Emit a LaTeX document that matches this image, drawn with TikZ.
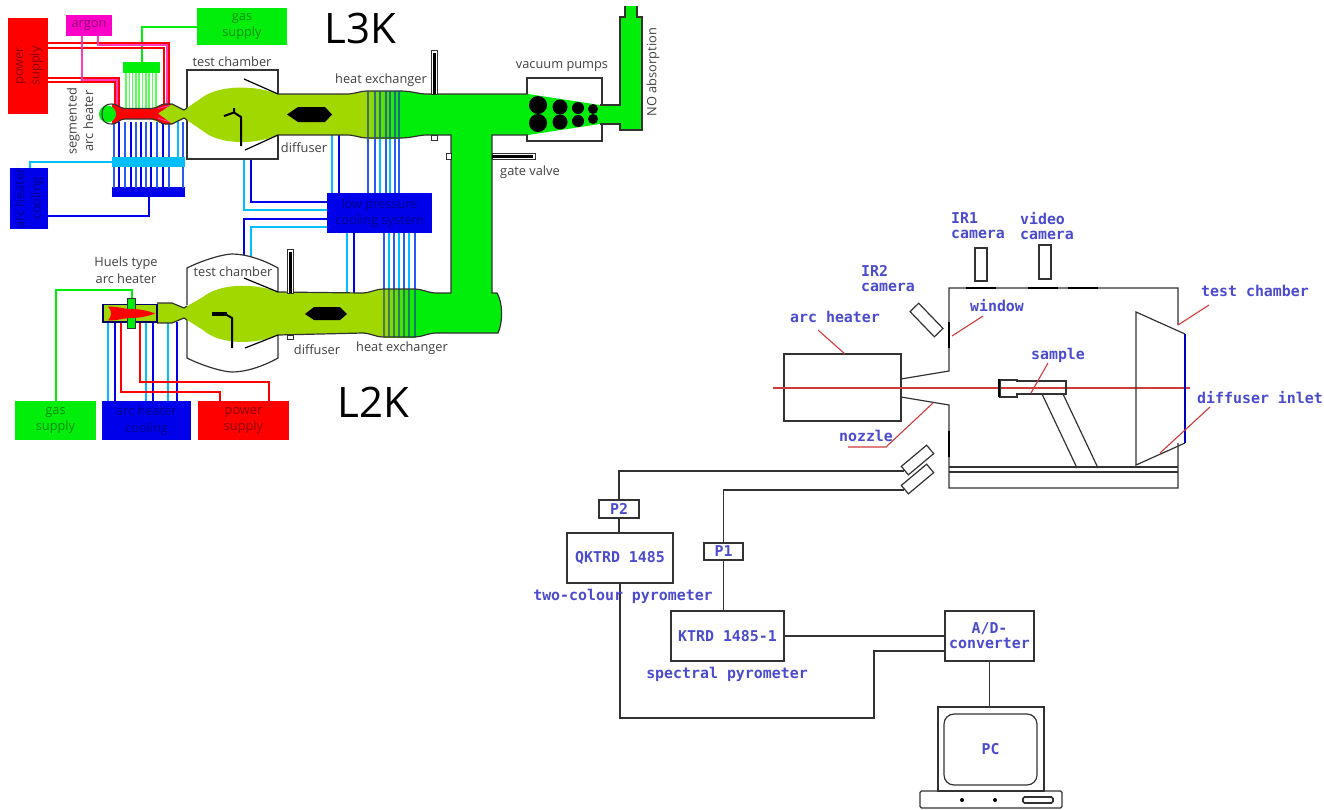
\documentclass[tikz,border=0pt]{standalone}
\usepackage{fontspec}
\setsansfont{Open Sans}
\setmonofont{DejaVu Sans Mono}
\definecolor{limeflow}{RGB}{160,216,0}
\definecolor{brightflow}{RGB}{0,238,10}
\definecolor{pinkline}{RGB}{255,60,190}
\definecolor{argonpink}{RGB}{255,0,200}
\definecolor{deepblue}{RGB}{0,0,235}
\definecolor{midblue}{RGB}{40,90,245}
\definecolor{skyblue}{RGB}{0,190,255}
\definecolor{monoblue}{RGB}{75,75,205}
\definecolor{leader}{RGB}{205,60,60}
\definecolor{wall}{RGB}{50,50,50}
\tikzset{
  sanslab/.style={font=\sffamily\fontsize{12.8}{16.5}\selectfont, text=black!75, align=center, inner sep=0pt},
  monolab/.style={font=\ttfamily\bfseries\fontsize{14.9}{15}\selectfont, text=monoblue, align=center, inner sep=0pt},
  supplybox/.style={fill=#1, text=#1!55!black, font=\sffamily\fontsize{12.8}{16.5}\selectfont, align=center, inner sep=0pt},
  wallbox/.style={draw=wall, line width=1.2pt, inner sep=0pt},
  wire/.style={draw=wall, line width=1.2pt},
  pipe/.style={draw=#1, line width=2pt},
  leadline/.style={draw=leader, line width=1.1pt},
  valvebox/.style={draw=wall, fill=white, line width=0.8pt}
}
\begin{document}
\begin{tikzpicture}[x=1pt,y=-1pt]
\useasboundingbox (0,0) rectangle (1324,809);
% L3K supplies
\node[supplybox=red, minimum width=40, minimum height=96] (powerthree) at (28,66) {\rotatebox{90}{\begin{tabular}{@{}c@{}}power\\supply\end{tabular}}};
\node[supplybox=argonpink, minimum width=46, minimum height=21] (argon) at (89,25.5) {argon};
\node[supplybox=green, fill=brightflow, minimum width=90, minimum height=37] (gasthree) at (242,26.5) {gas\\supply};
\node[supplybox=blue, fill=deepblue, minimum width=38, minimum height=61] (coolthree) at (29,198.5) {\rotatebox{90}{\begin{tabular}{@{}c@{}}arc heater\\cooling\end{tabular}}};
\node[fill=deepblue, minimum width=73, minimum height=10, inner sep=0pt] (deepbar) at (148.5,192) {};
\node[fill=brightflow, minimum width=37, minimum height=11, inner sep=0pt] (gasbar) at (141.5,67.5) {};
\node[supplybox=blue, fill=deepblue, minimum width=105, minimum height=40] (lowcool) at (379.5,213) {low pressure\\cooling system};
\coordinate (redA) at (169,106); \coordinate (redB) at (164,106); \coordinate (redC) at (119,106); \coordinate (redD) at (115,106);
\coordinate (pinkA) at (167,106); \coordinate (pinkB) at (117,106);
\foreach \x in {126,129.3,...,159} {\draw[draw=green!65!white, line width=1.6pt] (\x,73) -- (\x,108);}
\draw[pipe=brightflow] (gasbar.north) |- (gasthree.west);
\draw[pipe=red, line width=1.2pt] (powerthree.east |- 0,43) -| (redA);
\draw[pipe=red, line width=1.2pt] (powerthree.east |- 0,48) -| (redB);
\draw[pipe=red, line width=1.2pt] (powerthree.east |- 0,78) -| (redC);
\draw[pipe=red, line width=1.2pt] (powerthree.east |- 0,82) -| (redD);
\draw[pipe=pinkline, line width=1.4pt] (argon.south -| 98,0) |- (pinkA |- 0,45) -- (pinkA);
\draw[pipe=pinkline, line width=1.4pt] (argon.south -| 82,0) |- (pinkB |- 0,80) -- (pinkB);
\foreach \x/\c in {114/midblue,119/deepblue,125/midblue,131/deepblue,136/midblue,141/deepblue,146/midblue,151/deepblue,157/midblue,163/deepblue,169/midblue,183/midblue} {\draw[pipe=\c, line width=1.5pt] (\x,122) -- (\x,188);}
\draw[pipe=skyblue, line width=1.5pt] (178,119) -- (178,158);
\node[fill=skyblue, minimum width=73, minimum height=10, inner sep=0pt] (skybar) at (148.5,162) {};
\draw[pipe=skyblue] (skybar.west) -| (coolthree.north -| 30,0);
\draw[pipe=deepblue] (deepbar.south -| 149,0) |- (coolthree.east |- 0,216);
% cooling lines
\draw[pipe=deepblue] (251,159) |- (lowcool.west |- 0,202);
\draw[pipe=skyblue] (244,159) |- (lowcool.west |- 0,210);
\draw[pipe=deepblue] (243.5,256) |- (lowcool.west |- 0,219);
\draw[pipe=skyblue] (250.5,258) |- (lowcool.west |- 0,227);
\draw[pipe=skyblue] (332,135) -- (lowcool.north -| 332,0);
\draw[pipe=deepblue] (339,135) -- (lowcool.north -| 339,0);
\draw[pipe=skyblue] (347,293) -- (lowcool.south -| 347,0);
\draw[pipe=deepblue] (354,293) -- (lowcool.south -| 354,0);
\foreach \x/\c in {368/midblue,375/midblue,380/skyblue,386/midblue,390/skyblue,395/midblue,399/midblue} {\draw[pipe=\c, line width=1.5pt] (\x,135) -- (lowcool.north -| \x,0);}
\foreach \x/\c in {384/midblue,389/skyblue,394/midblue,399/skyblue,404/midblue,409/skyblue,415/midblue} {\draw[pipe=\c, line width=1.5pt] (\x,290) -- (lowcool.south -| \x,0);}
% L3K chamber and ducts
\node[wallbox, minimum width=91, minimum height=89] (chamberthree) at (232.5,114.5) {};
\node[wallbox, minimum width=75, minimum height=63] (pumpbox) at (564.5,109.5) {};
\fill[limeflow] (150,109) -- (163,104) -- (172,104) -- (184,110) -- (203,97) .. controls (220,85) and (255,85) .. (278,94) -- (347,94) .. controls (355,94) and (360,91) .. (367,91) -- (367,138) .. controls (360,138) and (355,135) .. (347,135) -- (278,135) .. controls (255,145) and (220,145) .. (203,131) -- (184,118) -- (172,124) -- (163,124) -- (150,119) -- cycle;
\shade[left color=limeflow, right color=brightflow] (367,91) rectangle (400,138);
\fill[brightflow] (400,91) .. controls (412,91) and (418,94) .. (427,94) -- (528,94) -- (600,105) -- (620,105) -- (620,17) -- (625,17) -- (625,6) -- (637,6) -- (637,17) -- (642,17) -- (642,130) -- (620,130) -- (620,124) -- (600,124) -- (528,135) -- (492,135) -- (492,293) -- (497,293) .. controls (503,303) and (503,322) .. (498,333) -- (437,333) .. controls (428,333) and (422,337) .. (415,337) -- (415,289) .. controls (422,289) and (428,293) .. (437,293) -- (451,293) -- (451,135) -- (427,135) .. controls (418,135) and (412,138) .. (400,138) -- cycle;
\draw[wire] (278,94) -- (347,94) .. controls (355,94) and (360,91) .. (367,91) -- (400,91) .. controls (412,91) and (418,94) .. (427,94) -- (528,94);
\draw[wire] (278,135) -- (347,135) .. controls (355,135) and (360,138) .. (367,138) -- (400,138) .. controls (412,138) and (418,135) .. (427,135) -- (451,135) -- (451,293);
\draw[wire] (528,135) -- (492,135) -- (492,293) -- (497,293) .. controls (503,303) and (503,322) .. (498,333) -- (437,333);
\draw[wire] (600,105) -- (620,105) -- (620,17) -- (625,17) -- (625,6) (637,6) -- (637,17) -- (642,17) -- (642,130) -- (620,130) -- (620,124) -- (600,124);
\foreach \x in {368,375,380,386,390,395,399} {\draw[midblue!70!black, opacity=0.7, line width=1.5pt] (\x,91) -- (\x,138);}
\foreach \cx/\cy/\r in {538/105/9,538/123/9,560/107/7.5,560/122/7.5,578/108/6,578/121/6,593/109/5,593/119/5} {\fill[black] (\cx,\cy) circle[radius=\r];}
\fill[black] (287,114.5) -- (298,107) -- (325,107) -- (332,114.5) -- (325,122) -- (298,122) -- cycle;
\draw[black, line width=1.2pt] (244,79) -- (278,94) (245,150) -- (278,135);
\draw[black, line width=2pt] (241,146) -- (241,117) -- (234,112.5) -- (224,116) (234,112.5) -- (234,108);
\draw[valvebox] (431,50) rectangle (437,94); \fill[black] (432.5,53) rectangle (435.5,94);
\draw[valvebox] (431,135) rectangle (437,140);
\draw[valvebox] (446,153) rectangle (451,159);
\draw[valvebox] (492,153) rectangle (535,159); \fill[black] (492,154.5) rectangle (533,157.5);
% L3K heater
\fill[red] (112,104) .. controls (118,104) and (119,108) .. (125,108.5) -- (152,108.5) .. controls (158,108) and (160,104) .. (165,104) -- (172,104) -- (158,113.5) -- (172,124) -- (165,124) .. controls (160,124) and (158,119) .. (152,119) -- (125,119) .. controls (119,119) and (118,124) .. (112,124) -- cycle;
\draw[pinkline, line width=0.8pt] (158,108.5) -- (170,105.5) (158,118) -- (170,122);
\fill[brightflow] (107.5,114) circle[radius=8.5];
\draw[draw=wall, line width=1.1pt] (172,104) -- (165,104) .. controls (160,104) and (158,108) .. (152,108.5) -- (125,108.5) .. controls (119,108) and (118,104) .. (112,104) .. controls (104,104) and (102,108) .. (102,114) .. controls (102,120) and (104,124) .. (112,124) .. controls (118,124) and (119,119) .. (125,119) -- (152,119) .. controls (158,119) and (160,124) .. (165,124) -- (172,124);
\draw[wire] (172,104) -- (184,110) -- (187,108) (172,124) -- (184,118) -- (187,120);
% L2K supplies
\node[supplybox=green, fill=brightflow, minimum width=81, minimum height=39] (gastwo) at (55.5,420.5) {gas\\supply};
\node[supplybox=blue, fill=deepblue, minimum width=89, minimum height=39] (cooltwo) at (146.5,420.5) {arc heater\\cooling};
\node[supplybox=red, minimum width=91, minimum height=39] (powertwo) at (243.5,420.5) {power\\supply};
\coordinate (inlettwo) at (132,298);
\draw[pipe=brightflow] (inlettwo) |- (56,290) -- (gastwo.north -| 56,0);
\foreach \x/\c in {108/skyblue,115/deepblue,146/skyblue,153/deepblue,167.5/skyblue,176.5/deepblue} {\draw[pipe=\c] (\x,322) -- (cooltwo.north -| \x,0);}
\draw[pipe=red] (121,322) |- (220,392) -- (powertwo.north -| 220,0);
\draw[pipe=red] (140,322) |- (269,382) -- (powertwo.north -| 269,0);
% L2K chamber and ducts
\draw[wall, line width=1.2pt, fill=white] (187,305) -- (187,268) .. controls (205,259) and (225,254) .. (232,254) .. controls (245,254) and (262,259) .. (278,268) -- (278,358) .. controls (262,367) and (245,372) .. (232,372) .. controls (225,372) and (205,367) .. (187,358) -- (187,320);
\fill[limeflow] (157,303) -- (172,303) -- (184,308) -- (203,297) .. controls (220,283) and (255,283) .. (278,292) -- (363,293) .. controls (370,293) and (375,289) .. (384,289) -- (384,337) .. controls (375,337) and (370,333) .. (363,333) -- (278,335) .. controls (255,345) and (220,345) .. (203,330) -- (184,318) -- (172,323) -- (157,323) -- cycle;
\shade[left color=limeflow, right color=brightflow] (384,289) rectangle (415,337);
\draw[wire] (278,292) -- (363,293) .. controls (370,293) and (375,289) .. (384,289) -- (415,289) .. controls (422,289) and (428,293) .. (437,293) -- (451,293);
\draw[wire] (278,335) -- (363,333) .. controls (370,333) and (375,337) .. (384,337) -- (415,337) .. controls (422,337) and (428,333) .. (437,333);
\foreach \x in {384,389,394,399,404,409,415} {\draw[midblue!60!black, opacity=0.6, line width=1.5pt] (\x,289) -- (\x,337);}
\draw[wire] (157,303) -- (172,303) -- (184,308) -- (187,306) (157,323) -- (172,323) -- (184,318) -- (187,320);
\fill[black] (305,314) -- (314,307) -- (340,307) -- (347,314) -- (340,320) -- (314,320) -- cycle;
\draw[black, line width=1.2pt] (244,278) -- (278,292) (245,348) -- (278,335);
\fill[black] (212,312) -- (227,312) -- (227,316) -- (212,316) -- cycle;
\draw[black, line width=2pt] (232,348) -- (232,318) -- (226,314.5);
\draw[valvebox] (287,249) rectangle (293,293); \fill[black] (288.5,252) rectangle (291.5,293);
\draw[valvebox] (287,335) rectangle (293,339);
% L2K heater
\fill[limeflow, draw=black!60!blue, line width=1.2pt] (103,304.5) rectangle (157,322);
\fill[brightflow, draw=wall, line width=0.8pt] (127,298) rectangle (135,328);
\fill[red] (108,306.5) .. controls (118,306.5) and (124,309) .. (131,309) .. controls (138,309) and (146,310) .. (155,313.5) .. controls (146,317) and (138,318) .. (131,318) .. controls (124,318) and (118,320.5) .. (108,320.5) .. controls (112,316) and (112,311) .. (108,306.5) -- cycle;
% right-hand test section
\draw[wire] (901,354) rectangle (784,421);
\draw[wire] (901,354) -- (901,379) -- (949,371) -- (949,288) -- (1178,288) -- (1178,325);
\draw[wire] (901,421) -- (901,397) -- (949,405) -- (949,488) -- (1178,488) -- (1178,443);
\draw[wire] (949,467) -- (1178,467) (949,472) -- (1178,472);
\draw[leadline] (773,388) -- (1190,388);
\draw[black, line width=2.4pt] (949,322) -- (949,348) (949,431) -- (949,457) (966,288) -- (996,288) (1028,288) -- (1058,288) (1068,288) -- (1098,288);
\node[wallbox, minimum width=12, minimum height=33] (irone) at (981,264.5) {};
\node[wallbox, minimum width=12, minimum height=34] (video) at (1045,262) {};
\node[wallbox, rotate=-46, minimum width=35, minimum height=12] (irtwo) at (926.5,320) {};
\node[wallbox, rotate=40, minimum width=33, minimum height=11] (fibreA) at (917.5,460) {};
\node[wallbox, rotate=40, minimum width=33, minimum height=11] (fibreB) at (917.5,479) {};
\draw[wire] (1000,380) -- (1017,380) -- (1017,381) -- (1066,381) -- (1066,394) -- (1017,394) -- (1017,397) -- (1000,397) -- cycle;
\draw[black, line width=2.4pt] (999,379) -- (999,397);
\draw[wire] (1042,394) -- (1077,468) (1063,394) -- (1098,468);
\draw[wire] (1185,334) -- (1136,312) -- (1136,465) -- (1185,443);
\draw[deepblue!80!black, line width=1.2pt] (1185,334) -- (1185,443);
\draw[leadline] (818,330) -- (845,354);
\draw[leadline] (983,316) -- (952,336);
\draw[leadline] (1048,363) -- (1031,393);
\draw[leadline] (848,447) -- (886,447) -- (933,403);
\draw[leadline] (1209,305) -- (1178,325);
\draw[leadline] (1210,407) -- (1160,453);
% pyrometers and PC
\node[wallbox, monolab, minimum width=40, minimum height=18] (ptwo) at (619,509) {P2};
\node[wallbox, monolab, minimum width=39, minimum height=17] (pone) at (723.5,551.5) {P1};
\node[wallbox, monolab, minimum width=106, minimum height=50] (qktrd) at (620,558) {QKTRD 1485};
\node[wallbox, monolab, minimum width=113, minimum height=50] (ktrd) at (727.5,636) {KTRD 1485-1};
\node[wallbox, monolab, minimum width=89, minimum height=50] (adconv) at (989.5,636) {A/D-\\converter};
\node[wallbox, minimum width=106, minimum height=84] (monitor) at (991,749) {};
\node[wallbox, rounded corners=10, monolab, minimum width=93, minimum height=71] (screen) at (990.5,749.5) {PC};
\node[wallbox, rounded corners=1.5, minimum width=142, minimum height=17] (base) at (991,799.5) {};
\fill[black] (962,800) circle[radius=2]; \fill[black] (995,800) circle[radius=2];
\draw[wire, rounded corners=1.5, line width=1.6pt] (1023,797) rectangle (1053,803);
\coordinate (turn) at (874,718);
\draw[wire] (ptwo.north) |- (fibreA.west);
\draw[wire] (ptwo.south) -- (ptwo.south |- qktrd.north);
\draw[wire] (pone.north) |- (fibreB.west);
\draw[wire] (pone.south) -- (pone.south |- ktrd.north);
\draw[wire] (ktrd.east) -- (adconv.west);
\draw[wire] (qktrd.south) |- (turn) |- (adconv.west |- 0,651);
\draw[wire] (adconv.south) -- (adconv.south |- monitor.north);
% labels
\node[font=\sffamily\fontsize{42}{42}\selectfont, text=black, inner sep=0pt] (namethree) at (360,28) {L3K};
\node[font=\sffamily\fontsize{42}{42}\selectfont, text=black, inner sep=0pt] (nametwo) at (373,402) {L2K};
\node[sanslab] (labtestthree) at (232,62) {test chamber};
\node[sanslab] (labdiffthree) at (304,148) {diffuser};
\node[sanslab] (labhxthree) at (381,80) {heat exchanger};
\node[sanslab] (labpumps) at (562,67) {vacuum pumps};
\node[sanslab] (labgate) at (530,172) {gate valve};
\node[sanslab, rotate=90] (labno) at (653,72) {NO absorption};
\node[sanslab, rotate=90] (labseg) at (80,121) {segmented\\arc heater};
\node[sanslab] (labhuels) at (126,270) {Huels type\\arc heater};
\node[sanslab] (labtesttwo) at (233,272) {test chamber};
\node[sanslab] (labdifftwo) at (317,350) {diffuser};
\node[sanslab] (labhxtwo) at (402,348) {heat exchanger};
\node[monolab] (labarc) at (835,317) {arc heater};
\node[monolab, align=left] (labirtwo) at (888,279) {IR2\\camera};
\node[monolab, align=left] (labirone) at (978,226) {IR1\\camera};
\node[monolab, align=left] (labvideo) at (1047,226) {video\\camera};
\node[monolab] (labwindow) at (997,306) {window};
\node[monolab] (labsample) at (1058,355) {sample};
\node[monolab] (labtest) at (1255,291) {test chamber};
\node[monolab] (labinlet) at (1260,398) {diffuser inlet};
\node[monolab] (labnozzle) at (866,436) {nozzle};
\node[monolab] (labtwocol) at (623,596) {two-colour pyrometer};
\node[monolab] (labspec) at (727,674) {spectral pyrometer};
\end{tikzpicture}
\end{document}
